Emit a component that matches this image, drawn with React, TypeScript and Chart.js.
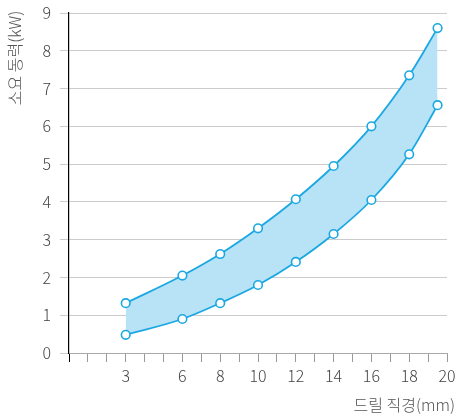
import React, { useEffect, useRef } from 'react';
import { Chart, registerables } from 'chart.js';
Chart.register(...registerables);

const xValues = [3, 6, 8, 10, 12, 14, 16, 18, 19.5];
const upperValues = [1.32, 2.05, 2.62, 3.3, 4.07, 4.95, 6.0, 7.35, 8.6];
const lowerValues = [0.48, 0.9, 1.32, 1.8, 2.41, 3.15, 4.05, 5.26, 6.56];
const xTickLabels = [3, 6, 8, 10, 12, 14, 16, 18, 20];
const yTitle = '소요 동력(kW)';
const xTitle = '드릴 직경(mm)';

const FONT = "'Noto Sans CJK KR', 'Noto Sans', sans-serif";
const LINE = '#1ba8e2';
const FILL = '#b8e3f7';

const titlePlugin = {
  id: 'axisTitles',
  afterDraw(chart: any) {
    const ctx = chart.ctx;
    ctx.save();
    ctx.fillStyle = '#555';
    ctx.font = `300 16px ${FONT}`;
    ctx.textBaseline = 'middle';
    ctx.textAlign = 'center';
    ctx.save();
    ctx.translate(15, 58);
    ctx.rotate(-Math.PI / 2);
    ctx.fillText(yTitle, 0, 0);
    ctx.restore();
    ctx.textAlign = 'right';
    ctx.fillText(xTitle, 455, 405);
    ctx.restore();
  },
};

export default function App() {
  const ref = useRef<HTMLCanvasElement>(null);
  useEffect(() => {
    const common = {
      borderColor: LINE,
      backgroundColor: FILL,
      borderWidth: 1.8,
      cubicInterpolationMode: 'monotone',
      pointRadius: 4.3,
      pointBackgroundColor: '#fff',
      pointBorderColor: LINE,
      pointBorderWidth: 1.6,
    };
    const chart = new Chart(ref.current!, {
      type: 'line',
      data: {
        datasets: [
          {
            ...common,
            data: xValues.map((x, i) => ({ x, y: upperValues[i] })),
            fill: '+1',
          },
          {
            ...common,
            data: xValues.map((x, i) => ({ x, y: lowerValues[i] })),
            fill: false,
          },
        ],
      },
      options: {
        responsive: false,
        animation: false,
        layout: { padding: { left: 0, right: 10, top: 13, bottom: 0 } },
        plugins: {
          legend: { display: false },
          tooltip: { enabled: false },
          filler: { drawTime: 'beforeDatasetsDraw' },
        },
        scales: {
          x: {
            type: 'linear',
            min: 0,
            max: 20,
            afterFit: (s: any) => {
              s.height = 66;
              s.paddingLeft = 0;
              s.paddingRight = 0;
            },
            ticks: {
              stepSize: 1,
              autoSkip: false,
              maxRotation: 0,
              padding: 4,
              color: '#444',
              font: { family: FONT, size: 16, weight: '300' },
              callback: (v: any) => (xTickLabels.includes(v) ? String(v) : ''),
            },
            grid: {
              drawOnChartArea: false,
              drawTicks: true,
              tickLength: 9,
              color: (c: any) => (c.tick && c.tick.value === 0 ? '#000' : '#999'),
            },
            border: { color: '#aaa' },
          },
          y: {
            min: 0,
            max: 9,
            afterFit: (s: any) => {
              s.width = 69;
              s.paddingTop = 0;
              s.paddingBottom = 0;
            },
            ticks: {
              stepSize: 1,
              padding: 9,
              color: '#444',
              font: { family: FONT, size: 16, weight: '300' },
            },
            grid: { color: '#cccccc', tickLength: 9 },
            border: { color: '#000', width: 1.2 },
          },
        },
      },
      plugins: [titlePlugin],
    } as any);
    return () => chart.destroy();
  }, []);
  return (
    <div style={{ position: 'absolute', left: 0, top: 0, width: 457, height: 419 }}>
      <canvas ref={ref} width={457} height={419} />
    </div>
  );
}
